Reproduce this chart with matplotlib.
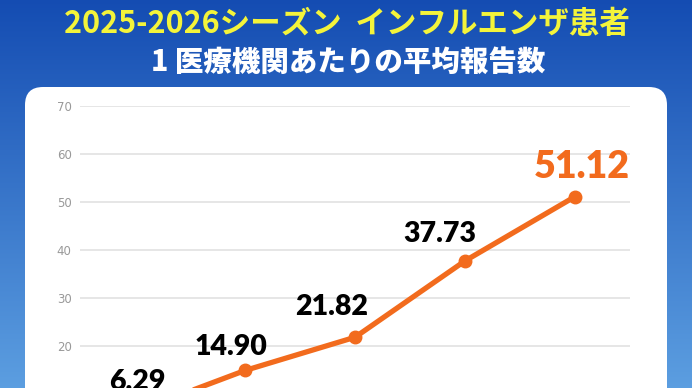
import matplotlib.pyplot as plt
import numpy as np
from matplotlib.patches import FancyBboxPatch

# data
weeks = [0, 1, 2, 3, 4]
values = [6.29, 14.90, 21.82, 37.73, 51.12]
labels = ["6.29", "14.90", "21.82", "37.73", "51.12"]
yticks = [0, 10, 20, 30, 40, 50, 60, 70]

title1 = "2025-2026シーズン  インフルエンザ患者"
title2 = "1 医療機関あたりの平均報告数"

W, H = 692, 388
fig = plt.figure(figsize=(W / 100, H / 100), dpi=100)

# background: blue gradient + white panel (pixel coords)
bg = fig.add_axes([0, 0, 1, 1])
bg.set_xlim(0, W)
bg.set_ylim(H, 0)
bg.axis("off")
t = np.linspace(0, 1, 200)[:, None]
top = np.array([0.08, 0.30, 0.70])
bot = np.array([0.36, 0.62, 0.88])
grad = top + (bot - top) * t[..., None] * np.ones((1, 2, 1))
bg.imshow(grad, extent=[0, W, H, 0], aspect="auto", zorder=0)
panel = FancyBboxPatch((25, 87), 642, 400, boxstyle="round,pad=0,rounding_size=18",
                       fc="white", ec="none", zorder=1)
bg.add_patch(panel)

jp = ["Noto Sans CJK JP", "DejaVu Sans"]
bg.text(W / 2 + 1, 24, title1, ha="center", va="center", color="#f4f43a",
        fontsize=22, fontweight="bold", family=jp, zorder=2)
bg.text(W / 2 + 2, 62, title2, ha="center", va="center", color="white",
        fontsize=20.5, fontweight="heavy", family=jp, zorder=2)

# chart axes, 0 at y=442px, 70 at y=106px
ax = fig.add_axes([80 / W, (H - 442) / H, 550 / W, 336 / H])
ax.patch.set_visible(False)
ax.set_xlim(-0.5, 4.5)
ax.set_ylim(0, 70)
ax.set_yticks(yticks)
ax.set_xticks([])
for s in ax.spines.values():
    s.set_visible(False)
ax.yaxis.grid(True, color="#e2e2e2", lw=1.2)
ax.set_axisbelow(True)
ax.tick_params(axis="y", length=0, pad=6, labelsize=8.5, labelcolor="#999999")

orange = "#f26b1d"
ax.plot(weeks, values, color=orange, lw=3.8, marker="o", ms=9, zorder=3, clip_on=False)

offsets = [(2, 22), (-14, 15), (-23, 22), (-25, 19), (7, 19)]
for i, (v, lab) in enumerate(zip(values, labels)):
    last = i == len(values) - 1
    ax.annotate(lab, (weeks[i], v), xytext=offsets[i], textcoords="offset pixels",
                ha="center", va="baseline", family="Lato", fontweight="heavy",
                fontsize=27 if last else 20.5, color=orange if last else "black",
                annotation_clip=False)

fig.savefig("out.png", dpi=100)
